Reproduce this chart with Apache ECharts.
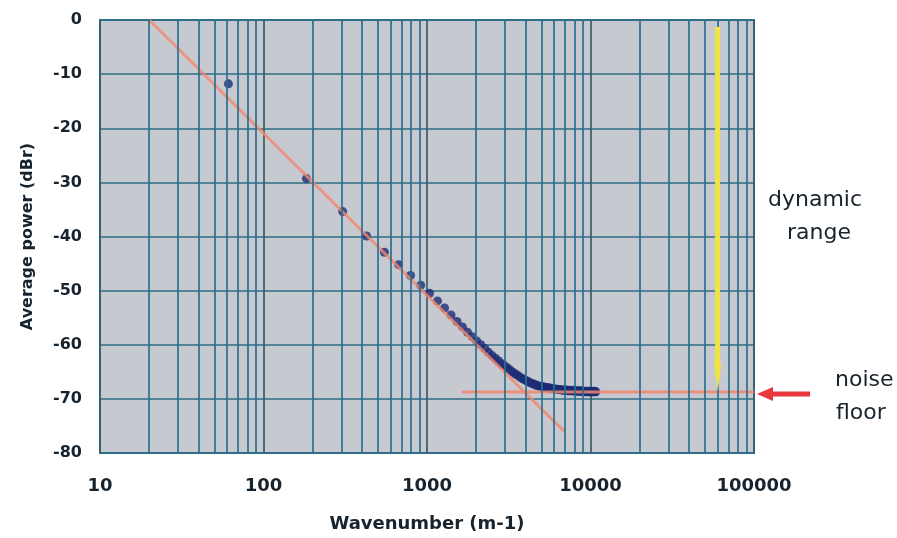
<!DOCTYPE html>
<html>
<head>
<meta charset="utf-8">
<script src="https://cdn.jsdelivr.net/npm/echarts@6/dist/echarts.min.js"></script>
<style>
  html, body { margin: 0; padding: 0; background: #ffffff; }
  #chart { width: 897px; height: 538px; }
</style>
</head>
<body>
<div id="chart"></div>
<script>
// Measured spectrum: wavenumber (m-1) and average power (dBr)
const wavenumber = [
  61, 183, 305, 427, 549, 671, 793, 915, 1037, 1159,
  1281, 1403, 1525, 1647, 1769, 1891, 2013, 2135, 2257, 2379,
  2501, 2623, 2745, 2867, 2989, 3111, 3233, 3355, 3477, 3599,
  3721, 3843, 3965, 4087, 4209, 4331, 4453, 4575, 4697, 4819,
  4941, 5063, 5185, 5307, 5429, 5551, 5673, 5795, 5917, 6039,
  6161, 6283, 6405, 6527, 6649, 6771, 6893, 7015, 7137, 7259,
  7381, 7503, 7625, 7747, 7869, 7991, 8113, 8235, 8357, 8479,
  8601, 8723, 8845, 8967, 9089, 9211, 9333, 9455, 9577, 9699,
  9821, 9943, 10065, 10187, 10309, 10431, 10553, 10675, 10797
];
const power = [
  -11.8, -29.3, -35.4, -39.9, -42.9, -45.2, -47.2, -49.0, -50.5, -51.9,
  -53.2, -54.5, -55.7, -56.7, -57.7, -58.5, -59.3, -60.0, -60.7, -61.4,
  -62.0, -62.5, -63.0, -63.5, -63.9, -64.3, -64.7, -65.1, -65.4, -65.7,
  -66.0, -66.3, -66.5, -66.7, -66.9, -67.1, -67.2, -67.4, -67.5, -67.6,
  -67.7, -67.7, -67.8, -67.9, -67.9, -68.0, -68.0, -68.1, -68.1, -68.2,
  -68.2, -68.2, -68.3, -68.3, -68.3, -68.4, -68.4, -68.3, -68.4, -68.5,
  -68.4, -68.5, -68.5, -68.4, -68.5, -68.6, -68.5, -68.5, -68.6, -68.5,
  -68.6, -68.6, -68.5, -68.6, -68.6, -68.7, -68.6, -68.6, -68.7, -68.6,
  -68.7, -68.6, -68.7, -68.7, -68.6, -68.7, -68.7, -68.6, -68.7
];

// Power-law fit (about -30 dB per decade) and the noise floor level
const slopeFit = [[20, 0], [6900, -76]];
const noiseFloor = [[1630, -68.75], [100000, -68.75]];
// Dynamic range marker (top and bottom level at wavenumber 60000)
const rangeMarker = [[60000, -1.3], [60000, -66]];

// Axis ranges and minor log gridlines
const xMin = 10, xMax = 100000;
const yMin = -80, yMax = 0, yStep = 10;
const minorX = [];
[10, 100, 1000, 10000].forEach(d => { for (let m = 2; m <= 9; m++) minorX.push(d * m); });

const FONT = 'DejaVu Sans';
const TEXT = '#17232d';

const chart = echarts.init(document.getElementById('chart'), null, { renderer: 'canvas' });

chart.setOption({
  animation: false,
  backgroundColor: '#ffffff',
  grid: {
    left: 100, top: 20, right: 143, bottom: 83,
    show: true, backgroundColor: '#c6cad0',
    borderColor: '#3b7a93', borderWidth: 2
  },
  xAxis: {
    type: 'log', logBase: 10, min: xMin, max: xMax,
    name: 'Wavenumber (m-1)', nameLocation: 'middle', nameGap: 62,
    nameTextStyle: { fontFamily: FONT, fontWeight: 'bold', fontSize: 18, color: TEXT },
    axisLine: { show: false }, axisTick: { show: false },
    axisLabel: {
      margin: 24, fontFamily: FONT, fontWeight: 'bold', fontSize: 18, color: TEXT,
      formatter: v => String(Math.round(v))
    },
    splitLine: { show: true, lineStyle: { color: '#3a5c6a', width: 1.7 } }
  },
  yAxis: {
    type: 'value', min: yMin, max: yMax, interval: yStep,
    name: 'Average power (dBr)', nameLocation: 'middle', nameGap: 64,
    nameTextStyle: { fontFamily: FONT, fontWeight: 'bold', fontSize: 16, color: TEXT },
    axisLine: { show: false }, axisTick: { show: false },
    axisLabel: { margin: 18, fontFamily: FONT, fontWeight: 'bold', fontSize: 16, color: TEXT },
    splitLine: { show: true, lineStyle: { color: '#2c6c86', width: 1.7 } }
  },
  series: [
    {
      // minor vertical gridlines at 2..9 of each decade
      type: 'line', data: [], silent: true,
      markLine: {
        silent: true, symbol: 'none', animation: false,
        label: { show: false },
        lineStyle: { color: '#2a7090', width: 1.7, type: 'solid' },
        data: minorX.map(v => ({ xAxis: v }))
      },
      z: 1
    },
    {
      // dynamic range bar
      type: 'line', data: [], silent: true,
      markLine: {
        silent: true, animation: false,
        symbol: ['none', 'triangle'], symbolSize: [7, 28],
        label: { show: false },
        lineStyle: { color: '#f0e443', width: 5, type: 'solid', opacity: 1 },
        itemStyle: { color: '#f0e443' },
        data: [[{ coord: rangeMarker[0] }, { coord: rangeMarker[1] }]]
      },
      z: 2
    },
    {
      name: 'power', type: 'scatter',
      data: wavenumber.map((k, i) => [k, power[i]]),
      symbol: 'circle', symbolSize: 9,
      itemStyle: { color: '#1d2c74' },
      z: 3
    },
    {
      name: 'fit', type: 'line', data: slopeFit, showSymbol: false, silent: true,
      lineStyle: { color: '#f2876f', width: 3, opacity: 0.8 },
      z: 4
    },
    {
      name: 'floor', type: 'line', data: noiseFloor, showSymbol: false, silent: true,
      lineStyle: { color: '#f2876f', width: 3, opacity: 0.85 },
      z: 4
    }
  ]
});

// Annotations to the right of the plot: labels and the arrow at the noise floor level
const floorPx = chart.convertToPixel({ gridIndex: 0 }, [xMax, noiseFloor[0][1]]);
const ay = floorPx[1] + 2;
const ax = floorPx[0] + 3;
chart.setOption({
  graphic: [
    {
      type: 'polygon', silent: true,
      shape: { points: [[ax, ay], [ax + 16, ay - 7], [ax + 16, ay - 2.5], [ax + 53, ay - 2.5], [ax + 53, ay + 2.5], [ax + 16, ay + 2.5], [ax + 16, ay + 7]] },
      style: { fill: '#e8363c' }
    },
    { type: 'text', left: 768, top: 189, style: { text: 'dynamic', font: '22px "DejaVu Sans"', fill: TEXT } },
    { type: 'text', left: 787, top: 222, style: { text: 'range', font: '22px "DejaVu Sans"', fill: TEXT } },
    { type: 'text', left: 835, top: 369, style: { text: 'noise', font: '22px "DejaVu Sans"', fill: TEXT } },
    { type: 'text', left: 836, top: 402, style: { text: 'floor', font: '22px "DejaVu Sans"', fill: TEXT } }
  ]
});
</script>
</body>
</html>
